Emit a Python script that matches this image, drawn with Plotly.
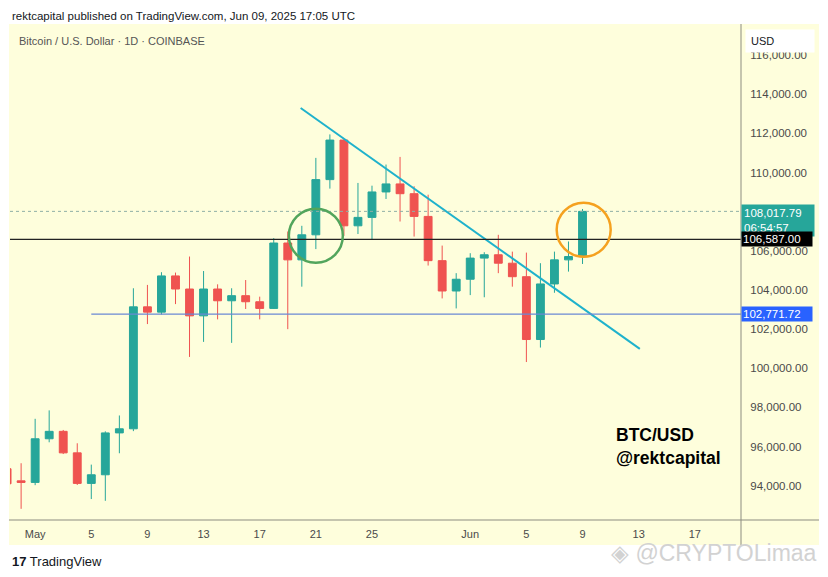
import plotly.graph_objects as go

dates = ["2025-04-29", "2025-04-30", "2025-05-01", "2025-05-02", "2025-05-03", "2025-05-04",
         "2025-05-05", "2025-05-06", "2025-05-07", "2025-05-08", "2025-05-09", "2025-05-10",
         "2025-05-11", "2025-05-12", "2025-05-13", "2025-05-14", "2025-05-15", "2025-05-16",
         "2025-05-17", "2025-05-18", "2025-05-19", "2025-05-20", "2025-05-21", "2025-05-22",
         "2025-05-23", "2025-05-24", "2025-05-25", "2025-05-26", "2025-05-27", "2025-05-28",
         "2025-05-29", "2025-05-30", "2025-05-31", "2025-06-01", "2025-06-02", "2025-06-03",
         "2025-06-04", "2025-06-05", "2025-06-06", "2025-06-07", "2025-06-08", "2025-06-09"]
opens = [94870, 94250, 94170, 96400, 96780, 95680, 94120, 94560, 96700, 96910, 103140, 102870,
         104720, 104050, 102680, 104050, 103450, 103710, 103400, 103060, 106400, 105540, 106820, 109640,
         111660, 107280, 107710, 109010, 109420, 108920, 107760, 105500, 103950, 104550, 105630, 105800,
         105370, 104680, 101470, 104310, 105540, 105710]
highs = [95300, 95150, 97420, 97850, 96850, 96170, 95080, 96780, 97590, 104090, 104260, 104910,
         104890, 105710, 104970, 104290, 104090, 104510, 103660, 106650, 106990, 107280, 110750, 111950,
         111700, 109470, 109330, 110410, 110800, 109300, 108870, 106270, 104860, 105880, 105930, 106820,
         105960, 105910, 105370, 105960, 106480, 108140]
lows = [93850, 92820, 94030, 96220, 95620, 94040, 93320, 93230, 95660, 96790, 102260, 102750,
        103280, 100580, 101350, 102500, 101300, 103030, 102500, 103030, 102000, 104170, 106090, 109180,
        106770, 106860, 106560, 108650, 107500, 106730, 105250, 103570, 103060, 103740, 103630, 104860,
        104170, 100320, 101060, 103860, 104940, 105330]
closes = [94100, 94170, 96400, 96780, 95680, 94120, 94560, 96700, 96910, 103140, 102870, 104720,
          104050, 102680, 104050, 103450, 103710, 103400, 103060, 106400, 105540, 106820, 109640, 111660,
          107280, 107710, 109010, 109420, 108920, 107760, 105500, 103950, 104550, 105630, 105800, 105370,
          104680, 101470, 104310, 105540, 105710, 108017.79]

last_price = 108017.79
black_level = 106587.00
blue_level = 102771.72
blue_start = "2025-05-05"

trend_dates = ["2025-05-19 22:00", "2025-06-13 02:00"]
trend_prices = [113300, 100990]

green_circle = ("2025-05-21", 106770)
orange_circle = ("2025-06-09 02:00", 107080)

tick_dates = ["2025-05-01", "2025-05-05", "2025-05-09", "2025-05-13", "2025-05-17", "2025-05-21",
              "2025-05-25", "2025-06-01", "2025-06-05", "2025-06-09", "2025-06-13", "2025-06-17"]
tick_text = ["May", "5", "9", "13", "17", "21", "25", "Jun", "5", "9", "13", "17"]
price_ticks = [94000, 96000, 98000, 100000, 102000, 104000, 106000, 110000, 112000, 114000, 116000]

yellow = "#fefedc"
green = "#26a69a"
red = "#ef5350"

fig = go.Figure()
fig.add_trace(go.Candlestick(x=dates, open=opens, high=highs, low=lows, close=closes,
                             increasing=dict(line=dict(color=green, width=1), fillcolor=green),
                             decreasing=dict(line=dict(color=red, width=1), fillcolor=red),
                             whiskerwidth=0, showlegend=False, hoverinfo="skip"))
fig.add_trace(go.Scatter(x=trend_dates, y=trend_prices, mode="lines",
                         line=dict(color="#1fb2cc", width=2), showlegend=False, hoverinfo="skip"))

# horizontal levels
fig.add_shape(type="line", xref="paper", x0=0, x1=1, yref="y", y0=last_price, y1=last_price,
              line=dict(color="#8fb0a6", width=1, dash="dot"))
fig.add_shape(type="line", xref="paper", x0=0, x1=1, yref="y", y0=black_level, y1=black_level,
              line=dict(color="#222222", width=1.2))
fig.add_shape(type="line", xref="x", x0=blue_start, x1="2025-06-21", yref="y", y0=blue_level, y1=blue_level,
              line=dict(color="#6a88d4", width=1.2))

# circles
for (cx, cy), col in [(green_circle, "#52a55c"), (orange_circle, "#f5a11f")]:
    fig.add_shape(type="circle", xref="x", yref="y", xsizemode="pixel", ysizemode="pixel",
                  xanchor=cx, yanchor=cy, x0=-27, x1=27, y0=-27, y1=27,
                  line=dict(color=col, width=2.5))

# chart panel background and axis borders
fig.add_shape(type="rect", xref="paper", yref="paper", x0=-0.0014, x1=1.1067, y0=-0.0504, y1=1.0,
              fillcolor=yellow, line=dict(width=0), layer="below")
fig.add_shape(type="line", xref="paper", yref="paper", x0=-0.0014, x1=1.1067, y0=0, y1=0,
              line=dict(color="#8c8c80", width=1))
fig.add_shape(type="line", xref="paper", yref="paper", x0=1, x1=1, y0=-0.0504, y1=1.0,
              line=dict(color="#8c8c80", width=1))

# price labels on right axis
fig.add_annotation(xref="paper", x=1, xanchor="left", yref="y", y=last_price, yanchor="top", yshift=7,
                   text="108,017.79<br>06:54:57", showarrow=False, bgcolor=green, borderpad=2, width=68,
                   align="left", font=dict(color="white", size=11.5, family="Liberation Sans"))
fig.add_annotation(xref="paper", x=1, xanchor="left", yref="y", y=black_level, yanchor="middle",
                   text="106,587.00", showarrow=False, bgcolor="#000000", borderpad=1, width=68,
                   align="left", font=dict(color="white", size=11.5, family="Liberation Sans"))
fig.add_annotation(xref="paper", x=1, xanchor="left", yref="y", y=blue_level, yanchor="middle",
                   text="102,771.72", showarrow=False, bgcolor="#2962ff", borderpad=1, width=68,
                   align="left", font=dict(color="white", size=11.5, family="Liberation Sans"))
fig.add_annotation(xref="paper", x=1.0055, xanchor="left", yref="paper", y=0.9667, yanchor="middle",
                   text="USD", showarrow=False, bgcolor="white", borderpad=5, width=58, align="left",
                   font=dict(color="#131722", size=11, family="Liberation Sans"))

# texts
fig.add_annotation(xref="paper", x=0, xanchor="left", yref="paper", y=1.016, yanchor="middle",
                   text="rektcapital published on TradingView.com, Jun 09, 2025 17:05 UTC", showarrow=False,
                   font=dict(color="#131722", size=11.5, family="Liberation Sans"))
fig.add_annotation(xref="paper", x=0.0096, xanchor="left", yref="paper", y=0.9657, yanchor="middle",
                   text="Bitcoin / U.S. Dollar · 1D · COINBASE", showarrow=False,
                   font=dict(color="#555555", size=11, family="Liberation Sans"))
fig.add_annotation(xref="paper", x=0.826, xanchor="left", yref="paper", y=0.149, yanchor="middle",
                   text="<b>BTC/USD<br>@rektcapital</b>", showarrow=False, align="left",
                   font=dict(color="#000000", size=17.5, family="Liberation Sans"))
fig.add_annotation(xref="paper", x=0, xanchor="left", yref="paper", y=-0.083, yanchor="middle",
                   text="<b>17</b> TradingView", showarrow=False,
                   font=dict(color="#131722", size=13, family="Liberation Sans"))
fig.add_annotation(xref="paper", x=1.1067, xanchor="right", yref="paper", y=-0.066, yanchor="middle",
                   text="◈ @CRYPTOLimaa", showarrow=False,
                   font=dict(color="#d2d2d2", size=23, family="Liberation Sans"))

fig.update_layout(
    width=828, height=577,
    margin=dict(l=10, r=87, t=24, b=57),
    paper_bgcolor="white", plot_bgcolor=yellow,
    boxgap=0.2,
    xaxis=dict(type="date", range=["2025-04-29 05:00", "2025-06-20 07:00"], rangeslider=dict(visible=False),
               showgrid=False, zeroline=False, showline=False, tickvals=tick_dates, ticktext=tick_text,
               ticks="outside", ticklen=4, tickcolor="rgba(0,0,0,0)",
               tickfont=dict(color="#4a4a4a", size=11, family="Liberation Sans")),
    yaxis=dict(side="right", range=[92250, 117590], showgrid=False, zeroline=False, showline=False,
               tickvals=price_ticks, tickformat=",.2f", ticks="outside", ticklen=6, tickcolor="rgba(0,0,0,0)",
               tickfont=dict(color="#4a4a4a", size=11.5, family="Liberation Sans")),
)

fig.write_html("out.html", config={"displayModeBar": False},
               post_script="document.body.style.margin='0';")
